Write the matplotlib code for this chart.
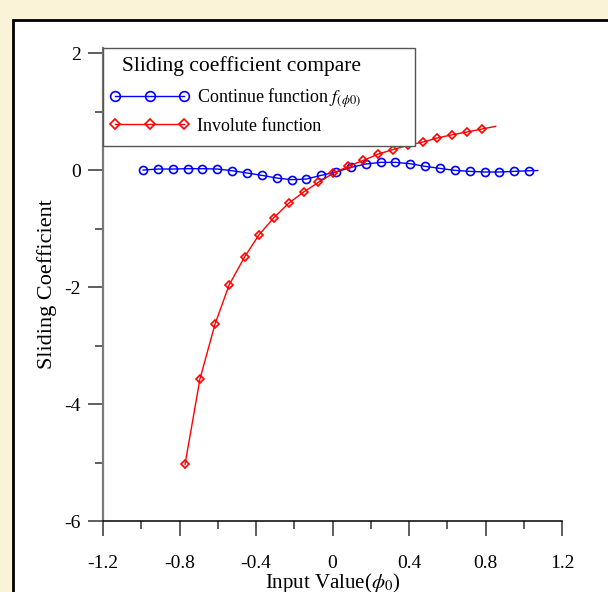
import matplotlib
matplotlib.use("Agg")
import matplotlib.pyplot as plt
from matplotlib.patches import Rectangle

plt.rcParams["font.family"] = ["Liberation Serif", "DejaVu Serif"]
plt.rcParams["mathtext.fontset"] = "stix"
plt.rcParams["axes.unicode_minus"] = False

# blue: continue function (markers)
cont_x = [-0.990, -0.913, -0.835, -0.757, -0.680, -0.602, -0.525, -0.447, -0.370,
          -0.292, -0.214, -0.137, -0.059, 0.018, 0.096, 0.174, 0.251, 0.329,
          0.406, 0.484, 0.562, 0.639, 0.717, 0.795, 0.872, 0.950, 1.027]
cont_y = [0.003, 0.020, 0.020, 0.026, 0.026, 0.020, -0.009, -0.048, -0.088,
          -0.134, -0.162, -0.151, -0.088, -0.031, 0.048, 0.105, 0.134, 0.134,
          0.111, 0.066, 0.031, -0.003, -0.020, -0.031, -0.031, -0.020, -0.009]
cont_end = (1.073, -0.005)

# red: involute function (markers)
inv_x = [-0.771, -0.693, -0.614, -0.540, -0.459, -0.383, -0.306, -0.227, -0.151,
         -0.074, 0.004, 0.082, 0.161, 0.240, 0.315, 0.393, 0.472, 0.546, 0.627,
         0.703, 0.782]
inv_y = [-5.03, -3.57, -2.63, -1.96, -1.48, -1.10, -0.81, -0.56, -0.373, -0.209,
         -0.052, 0.066, 0.168, 0.277, 0.351, 0.424, 0.481, 0.550, 0.607, 0.653,
         0.705]
inv_end = (0.853, 0.750)

x_ticks = [-1.2, -0.8, -0.4, 0, 0.4, 0.8, 1.2]
x_labels = ["-1.2", "-0.8", "-0.4", "0", "0.4", "0.8", "1.2"]
y_ticks = [-6, -4, -2, 0, 2]
y_labels = ["-6", "-4", "-2", "0", "2"]

fig = plt.figure(figsize=(6.08, 5.92), dpi=100)
fig.patch.set_facecolor("#FAF3D8")
fig.patches.append(Rectangle((12.5 / 608, -0.1), 1.2, (592 - 20) / 592 + 0.1,
                             transform=fig.transFigure, facecolor="white",
                             edgecolor="black", linewidth=2.0, zorder=-5))

ax = fig.add_axes([103 / 608, 71 / 592, 459 / 608, 473 / 592])
ax.set_facecolor("none")

blue = "#0000FF"
red = "#FF0000"
ax.plot(cont_x + [cont_end[0]], cont_y + [cont_end[1]], color=blue, lw=1.0,
        marker="o", ms=5.8, mfc="none", mec=blue, mew=1.2,
        markevery=list(range(len(cont_x))), label=r"Continue function $f_{(\phi0)}$")
ax.plot(inv_x + [inv_end[0]], inv_y + [inv_end[1]], color=red, lw=1.0,
        marker="D", ms=3.6, mfc="none", mec=red, mew=1.2,
        markevery=list(range(len(inv_x))), label="Involute function")

ax.set_xlim(-1.2, 1.2)
ax.set_ylim(-6, 2.09)
ax.set_xticks(x_ticks)
ax.set_xticklabels(x_labels)
ax.set_yticks(y_ticks)
ax.set_yticklabels(y_labels)
ax.set_xticks([-1.0, -0.6, -0.2, 0.2, 0.6, 1.0], minor=True)
ax.set_yticks([-5, -3, -1, 1], minor=True)

for s in ["top", "right"]:
    ax.spines[s].set_visible(False)
ax.spines["left"].set_color("#7a7a7a")
ax.spines["left"].set_linewidth(1.6)
ax.spines["bottom"].set_color("black")
ax.spines["bottom"].set_linewidth(1.1)

ax.tick_params(axis="x", which="major", direction="out", length=10.5, width=1.1,
               color="#333333", labelsize=14, pad=14)
ax.tick_params(axis="x", which="minor", direction="out", length=6, width=1.1,
               color="#333333")
ax.tick_params(axis="y", which="major", direction="out", length=10.5, width=1.1,
               color="#333333", labelsize=14, pad=5.5)
ax.tick_params(axis="y", which="minor", direction="out", length=6, width=1.1,
               color="#333333")

ax.set_xlabel(r"Input Value($\phi_0$)", fontsize=15)
ax.xaxis.set_label_coords(0.5, -0.106)
ax.set_ylabel("Sliding Coefficient", fontsize=16)
ax.yaxis.set_label_coords(-0.100, 0.5)

# legend frame and title
ax.add_patch(Rectangle((0, (521 - 146) / 473), (415 - 103) / 459, (146 - 48) / 473,
                       transform=ax.transAxes, facecolor="white", edgecolor="#555555",
                       linewidth=1.0, zorder=4, clip_on=False))
ax.text((122 - 103) / 459, (521 - 66) / 473, "Sliding coefficient compare",
        transform=ax.transAxes, fontsize=15.5, ha="left", va="center", zorder=5)
leg = ax.legend(loc="center left", bbox_to_anchor=((109.6 - 103) / 459, (521 - 110.5) / 473),
                borderaxespad=0, borderpad=0, fontsize=13, numpoints=3,
                handlelength=4.42, handletextpad=0.42, labelspacing=0.42,
                frameon=False)
leg.set_zorder(6)
for h, ms in zip(leg.legend_handles, [7.0, 5.2]):
    h.set_markersize(ms)

fig.savefig("out.png", dpi=100, facecolor=fig.get_facecolor())
